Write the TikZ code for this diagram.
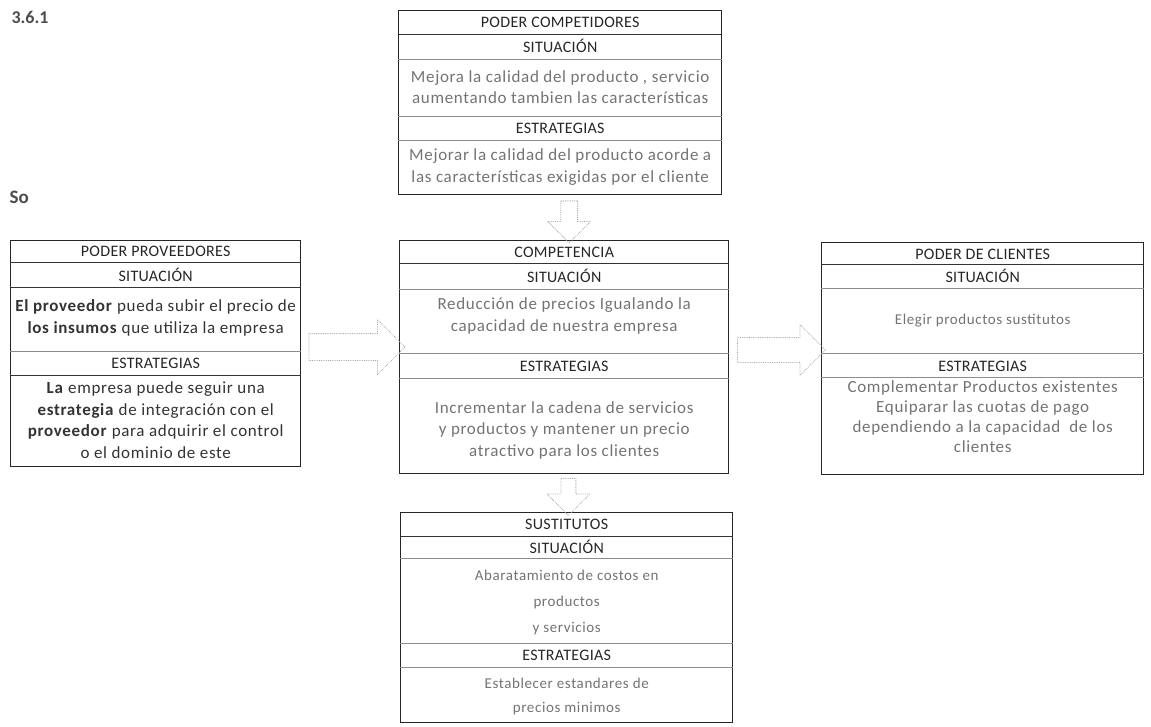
\documentclass[tikz,border=0pt]{standalone}
\usepackage{fontspec}
\setmainfont{Carlito}
\newfontfamily\panelfont[LetterSpace=4]{Carlito}
\newfontfamily\titlefont[LetterSpace=2]{Carlito}
\usetikzlibrary{shapes.arrows,calc}

\tikzset{
  panel/.style={draw=black!85, line width=1.4pt, anchor=north west, inner sep=0pt},
  rulemain/.style={draw=black!80, line width=1pt},
  rulesoft/.style={draw=black!45, line width=0.7pt},
  headtxt/.style={font=\titlefont\fontsize{16}{18}\selectfont, text=black!85, inner sep=0pt},
  bodytxt/.style={font=\panelfont\fontsize{17}{21.5}\selectfont, text=black!55, align=center, inner sep=0pt},
  smalltxt/.style={bodytxt, font=\panelfont\fontsize{15}{21.5}\selectfont},
  darktxt/.style={bodytxt, text=black!80},
  bigarrow/.style={shape=single arrow, draw=black!35, densely dotted, line width=0.8pt,
    single arrow tip angle=90, inner sep=0pt, anchor=center},
}

\begin{document}
\begin{tikzpicture}[x=1pt, y=-1pt]
\useasboundingbox (0,0) rectangle (1151,727);

% heading fragments at the page edge
\node[font=\bfseries\fontsize{18}{20}\selectfont, text=black!70, anchor=west] (sec) at (8,17) {3.6.1};
\node[font=\bfseries\fontsize{19}{20}\selectfont, text=black!70, anchor=west] (sub) at (6,197) {So};

% ---------- PODER COMPETIDORES ----------
\node[panel, minimum width=323pt, minimum height=184pt] (T) at (398,10) {};
\draw[rulemain] (T.west |- 0,35) -- (T.east |- 0,35);
\draw[rulesoft] (T.west |- 0,59) -- (T.east |- 0,59);
\draw[rulesoft] (T.west |- 0,116) -- (T.east |- 0,116);
\draw[rulesoft] (T.west |- 0,140) -- (T.east |- 0,140);
\node[headtxt] (T-t) at (T.north |- 0,22) {PODER COMPETIDORES};
\node[headtxt] (T-s) at (T.north |- 0,46) {SITUACIÓN};
\node[bodytxt] (T-sb) at (T.north |- 0,87) {Mejora la calidad del producto , servicio\\aumentando tambien las características};
\node[headtxt] (T-e) at (T.north |- 0,128) {ESTRATEGIAS};
\node[bodytxt] (T-eb) at (T.north |- 0,167) {Mejorar la calidad del producto acorde a\\las características exigidas por el cliente};

% ---------- PODER PROVEEDORES ----------
\node[panel, minimum width=290pt, minimum height=226pt] (L) at (10,240) {};
\draw[rulemain] (L.west |- 0,263) -- (L.east |- 0,263);
\draw[rulemain] (L.west |- 0,288) -- (L.east |- 0,288);
\draw[rulesoft] (L.west |- 0,351) -- (L.east |- 0,351);
\draw[rulemain] (L.west |- 0,375) -- (L.east |- 0,375);
\node[headtxt] (L-t) at (L.north |- 0,251) {PODER PROVEEDORES};
\node[headtxt] (L-s) at (L.north |- 0,275) {SITUACIÓN};
\node[darktxt] (L-sb) at (L.north |- 0,318) {\textbf{El proveedor} pueda subir el precio de\\\textbf{los insumos} que utiliza la empresa};
\node[headtxt] (L-e) at (L.north |- 0,363) {ESTRATEGIAS};
\node[darktxt] (L-eb) at (L.north |- 0,420) {\textbf{La} empresa puede seguir una\\\textbf{estrategia} de integración con el\\\textbf{proveedor} para adquirir el control\\o el dominio de este};

% ---------- COMPETENCIA ----------
\node[panel, minimum width=329pt, minimum height=233pt] (M) at (399,240) {};
\draw[rulemain] (M.west |- 0,264) -- (M.east |- 0,264);
\draw[rulesoft] (M.west |- 0,289) -- (M.east |- 0,289);
\draw[rulesoft] (M.west |- 0,353) -- (M.east |- 0,353);
\draw[rulesoft] (M.west |- 0,378) -- (M.east |- 0,378);
\node[headtxt] (M-t) at (M.north |- 0,252) {COMPETENCIA};
\node[headtxt] (M-s) at (M.north |- 0,276) {SITUACIÓN};
\node[bodytxt] (M-sb) at (M.north |- 0,316) {Reducción de precios Igualando la\\capacidad de nuestra empresa};
\node[headtxt] (M-e) at (M.north |- 0,366) {ESTRATEGIAS};
\node[bodytxt] (M-eb) at (M.north |- 0,430) {Incrementar la cadena de servicios\\y productos y mantener un precio\\atractivo para los clientes};

% ---------- PODER DE CLIENTES ----------
\node[panel, minimum width=322pt, minimum height=232pt] (R) at (821,242) {};
\draw[rulemain] (R.west |- 0,265) -- (R.east |- 0,265);
\draw[rulesoft] (R.west |- 0,288) -- (R.east |- 0,288);
\draw[rulesoft] (R.west |- 0,353) -- (R.east |- 0,353);
\draw[rulesoft] (R.west |- 0,377) -- (R.east |- 0,377);
\node[headtxt] (R-t) at (R.north |- 0,254) {PODER DE CLIENTES};
\node[headtxt] (R-s) at (R.north |- 0,276) {SITUACIÓN};
\node[smalltxt] (R-sb) at (R.north |- 0,321) {Elegir productos sustitutos};
\node[headtxt] (R-e) at (R.north |- 0,366) {ESTRATEGIAS};
\node[bodytxt, font=\panelfont\fontsize{17}{20}\selectfont] (R-eb) at (R.north |- 0,417) {Complementar Productos existentes\\Equiparar las cuotas de pago\\dependiendo a la capacidad \ de los\\clientes};

% ---------- SUSTITUTOS ----------
\node[panel, minimum width=332pt, minimum height=210pt] (S) at (400,512) {};
\draw[rulemain] (S.west |- 0,536) -- (S.east |- 0,536);
\draw[rulesoft] (S.west |- 0,558) -- (S.east |- 0,558);
\draw[rulesoft] (S.west |- 0,643) -- (S.east |- 0,643);
\draw[rulesoft] (S.west |- 0,667) -- (S.east |- 0,667);
\node[headtxt] (S-t) at (S.north |- 0,524) {SUSTITUTOS};
\node[headtxt] (S-s) at (S.north |- 0,547) {SITUACIÓN};
\node[smalltxt, font=\panelfont\fontsize{15}{26}\selectfont] (S-sb) at (S.north |- 0,602) {Abaratamiento de costos en\\productos\\y servicios};
\node[headtxt] (S-e) at (S.north |- 0,655) {ESTRATEGIAS};
\node[smalltxt, font=\panelfont\fontsize{15}{24}\selectfont] (S-eb) at (S.north |- 0,696) {Establecer estandares de\\precios minimos};

% ---------- block arrows between the panels ----------
\node[bigarrow, rotate=-90, minimum height=42pt, inner ysep=8pt, single arrow head extend=13pt]
  (a-tm) at ($(T.south)!0.5!(M.north)+(7,0)$) {};
\node[bigarrow, minimum height=96pt, inner ysep=13pt, single arrow head extend=14pt]
  (a-lm) at ($(L.east |- 0,347)!0.5!(M.west |- 0,347)$) {};
\node[bigarrow, minimum height=88pt, inner ysep=12pt, single arrow head extend=13pt]
  (a-mr) at ($(M.east |- 0,350)!0.5!(R.west |- 0,350)$) {};
\node[bigarrow, rotate=-90, minimum height=37pt, inner ysep=7pt, single arrow head extend=14pt]
  (a-ms) at ($(M.south)!0.5!(S.north)+(3,0)$) {};

\end{tikzpicture}
\end{document}
